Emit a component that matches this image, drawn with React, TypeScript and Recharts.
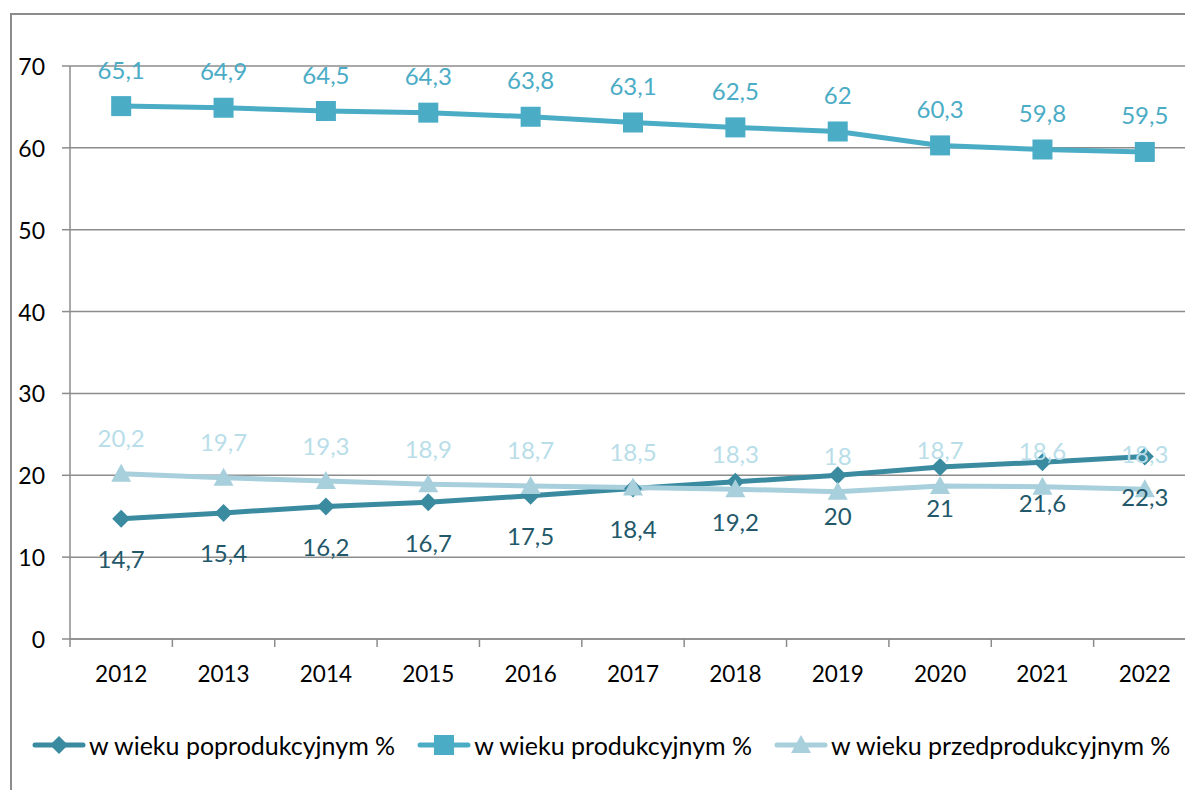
import React from 'react';
import { LineChart, Line, XAxis, YAxis, CartesianGrid, Legend, LabelList } from 'recharts';

const years = ['2012', '2013', '2014', '2015', '2016', '2017', '2018', '2019', '2020', '2021', '2022'];
const poprodukcyjny = [14.7, 15.4, 16.2, 16.7, 17.5, 18.4, 19.2, 20, 21, 21.6, 22.3];
const produkcyjny = [65.1, 64.9, 64.5, 64.3, 63.8, 63.1, 62.5, 62, 60.3, 59.8, 59.5];
const przedprodukcyjny = [20.2, 19.7, 19.3, 18.9, 18.7, 18.5, 18.3, 18, 18.7, 18.6, 18.3];
const yTicks = [0, 10, 20, 30, 40, 50, 60, 70];

const seriesNames = {
  post: 'w wieku poprodukcyjnym %',
  prod: 'w wieku produkcyjnym %',
  pre: 'w wieku przedprodukcyjnym %',
};

const data = years.map((y, i) => ({
  year: y,
  post: poprodukcyjny[i],
  prod: produkcyjny[i],
  pre: przedprodukcyjny[i],
}));

const FONT = 'Lato, "Open Sans", sans-serif';
const C_POST = '#3A8BA0';
const C_POST_LBL = '#23586A';
const C_PROD = '#4BACC6';
const C_PRE = '#A8CFDC';
const C_PRE_LBL = '#B9DEE9';
const GRID = '#8C8C8C';

const CHART_W = 1240;
const CHART_H = 790;
const MARGIN = { top: 66, right: 44, left: 10, bottom: 25 };
const YAXIS_W = 60;
const PLOT_W = CHART_W - MARGIN.left - MARGIN.right - YAXIS_W;
const STEP = PLOT_W / years.length;

const fmt = (v: number) => String(v).replace('.', ',');

const Diamond = (props: any) => {
  const { cx, cy } = props;
  if (cx == null || cy == null) return null;
  const r = 9;
  return <path d={`M${cx},${cy - r}L${cx + r},${cy}L${cx},${cy + r}L${cx - r},${cy}Z`} fill={C_POST} />;
};
const Square = (props: any) => {
  const { cx, cy } = props;
  if (cx == null || cy == null) return null;
  return <rect x={cx - 10} y={cy - 10} width={20} height={20} fill={C_PROD} />;
};
const Triangle = (props: any) => {
  const { cx, cy } = props;
  if (cx == null || cy == null) return null;
  return <path d={`M${cx},${cy - 10}L${cx + 10},${cy + 8}L${cx - 10},${cy + 8}Z`} fill={C_PRE} />;
};

const makeLabel = (color: string, dy: number) => (props: any) => {
  const { x, y, value } = props;
  return (
    <text x={x} y={y + dy} fill={color} textAnchor="middle" dominantBaseline="central" fontFamily={FONT} fontSize={24}>
      {fmt(value)}
    </text>
  );
};

const XTick = (props: any) => {
  const { x, y, payload, index } = props;
  const axisY = y - 18;
  const bx = x - STEP / 2;
  return (
    <g>
      <line x1={bx} y1={axisY} x2={bx} y2={axisY + 8} stroke={GRID} strokeWidth={1.5} />
      {index === years.length - 1 && (
        <line x1={x + STEP / 2} y1={axisY} x2={x + STEP / 2} y2={axisY + 8} stroke={GRID} strokeWidth={1.5} />
      )}
      <text x={x} y={axisY + 34} textAnchor="middle" dominantBaseline="central" fill="#000" fontFamily={FONT} fontSize={22.5}>
        {payload.value}
      </text>
    </g>
  );
};

const YTick = (props: any) => {
  const { x, y, payload } = props;
  return (
    <text x={x} y={y} textAnchor="end" dominantBaseline="central" fill="#000" fontFamily={FONT} fontSize={23}>
      {payload.value}
    </text>
  );
};

const LegendIcon = ({ kind }: { kind: string }) => {
  const color = kind === 'post' ? C_POST : kind === 'prod' ? C_PROD : C_PRE;
  return (
    <svg width={54} height={24} style={{ display: 'block' }}>
      <line x1={3} y1={12} x2={51} y2={12} stroke={color} strokeWidth={5} strokeLinecap="round" />
      {kind === 'post' && <path d="M27,3L36,12L27,21L18,12Z" fill={color} />}
      {kind === 'prod' && <rect x={17} y={2} width={20} height={20} fill={color} />}
      {kind === 'pre' && <path d="M27,2L37,20L17,20Z" fill={color} />}
    </svg>
  );
};

const LegendContent = () => {
  const items = ['post', 'prod', 'pre'] as const;
  return (
    <div style={{ display: 'flex', alignItems: 'center', height: 40, paddingLeft: 32, fontFamily: FONT, fontSize: 25, color: '#000' }}>
      {items.map((k, i) => (
        <div key={k} style={{ display: 'flex', alignItems: 'center', marginLeft: i === 0 ? 0 : 22 }}>
          <LegendIcon kind={k} />
          <span style={{ marginLeft: 3, whiteSpace: 'nowrap' }}>{seriesNames[k]}</span>
        </div>
      ))}
    </div>
  );
};

export default function App() {
  return (
    <div style={{ position: 'fixed', left: 0, top: 0, width: 1185, height: 790, overflow: 'hidden', background: '#fff' }}>
      <div
        style={{
          position: 'absolute',
          left: 10,
          top: 13,
          width: 1400,
          height: 1000,
          borderLeft: `2px solid ${GRID}`,
          borderTop: `2px solid ${GRID}`,
        }}
      />
      <div style={{ position: 'absolute', left: 0, top: 0 }}>
        <LineChart width={CHART_W} height={CHART_H} data={data} margin={MARGIN}>
          <CartesianGrid vertical={false} stroke={GRID} strokeWidth={1.5} />
          <XAxis
            dataKey="year"
            interval={0}
            height={86}
            padding={{ left: STEP / 2, right: STEP / 2 }}
            tickSize={8}
            tickMargin={10}
            tickLine={false}
            axisLine={{ stroke: GRID, strokeWidth: 1.5 }}
            tick={<XTick />}
          />
          <YAxis
            width={YAXIS_W}
            domain={[0, 70]}
            ticks={yTicks}
            interval={0}
            tickSize={8}
            tickMargin={17}
            axisLine={{ stroke: GRID, strokeWidth: 1.5 }}
            tickLine={{ stroke: GRID, strokeWidth: 1.5 }}
            tick={<YTick />}
          />
          <Legend verticalAlign="bottom" content={<LegendContent />} wrapperStyle={{ left: 0, width: 1185 }} />
          <Line dataKey="post" name={seriesNames.post} stroke={C_POST} strokeWidth={5} dot={<Diamond />} activeDot={false} isAnimationActive={false}>
            <LabelList dataKey="post" content={makeLabel(C_POST_LBL, 40)} />
          </Line>
          <Line dataKey="prod" name={seriesNames.prod} stroke={C_PROD} strokeWidth={5} dot={<Square />} activeDot={false} isAnimationActive={false}>
            <LabelList dataKey="prod" content={makeLabel(C_PROD, -37)} />
          </Line>
          <Line dataKey="pre" name={seriesNames.pre} stroke={C_PRE} strokeWidth={5} dot={<Triangle />} activeDot={false} isAnimationActive={false}>
            <LabelList dataKey="pre" content={makeLabel(C_PRE_LBL, -36)} />
          </Line>
        </LineChart>
      </div>
    </div>
  );
}
